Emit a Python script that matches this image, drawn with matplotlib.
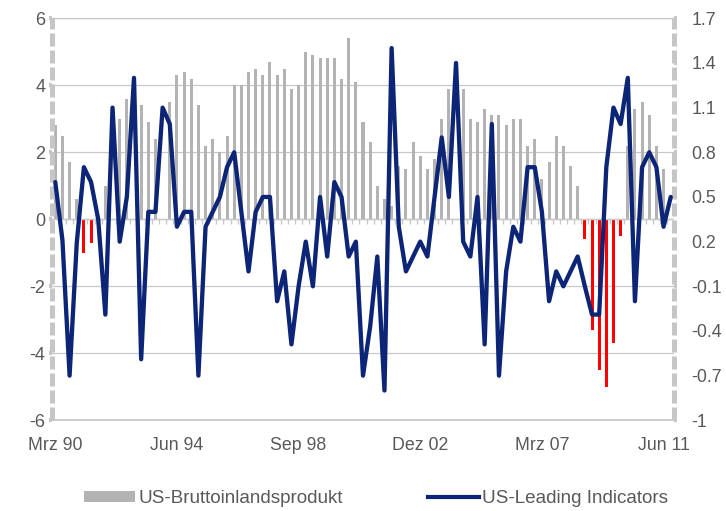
import numpy as np
import matplotlib
matplotlib.use("Agg")
import matplotlib.pyplot as plt
from matplotlib.patches import Patch
from matplotlib.lines import Line2D
from matplotlib.ticker import FuncFormatter

plt.rcParams['font.family'] = ['Liberation Sans', 'DejaVu Sans']
plt.rcParams['axes.unicode_minus'] = False

# ---- data (quarterly, Mrz 90 .. Sep 11) ----
n_quarters = 87
tick_positions = [0, 17, 34, 51, 68, 85]
tick_labels = ["Mrz 90", "Jun 94", "Sep 98", "Dez 02", "Mrz 07", "Jun 11"]

gdp = [2.8, 2.5, 1.7, 0.6, -1.0, -0.7, 0.0, 1.0, 0.0, 3.0,
       3.6, 0.0, 3.4, 2.9, 2.4, 0.0, 3.5, 4.3, 4.4, 4.2,
       3.4, 2.2, 2.4, 2.0, 2.5, 4.0, 4.0, 4.4, 4.5, 4.3,
       4.7, 4.3, 4.5, 3.9, 4.0, 5.0, 4.9, 4.8, 4.8, 4.8,
       4.2, 5.4, 4.1, 2.9, 2.3, 1.0, 0.6, 0.4, 1.6, 1.5,
       2.3, 1.9, 1.5, 1.8, 3.0, 3.9, 0.0, 3.9, 3.0, 2.9,
       3.3, 3.1, 3.1, 2.8, 3.0, 3.0, 2.2, 2.4, 1.2, 1.7,
       2.5, 2.2, 1.6, 1.0, -0.6, -3.3, -4.5, -5.0, -3.7, -0.5,
       2.2, 3.3, 3.5, 3.1, 2.2, 1.5]

lei = [0.60, 0.21, -0.70, 0.19, 0.70, 0.60, 0.35, -0.29, 1.10, 0.20,
       0.50, 1.30, -0.59, 0.40, 0.40, 1.10, 0.99, 0.30, 0.40, 0.40,
       -0.70, 0.30, 0.40, 0.50, 0.70, 0.80, 0.40, 0.00, 0.40, 0.50,
       0.50, -0.20, 0.00, -0.49, -0.10, 0.20, -0.10, 0.50, 0.10, 0.60,
       0.50, 0.10, 0.20, -0.70, -0.37, 0.10, -0.80, 1.50, 0.30, 0.00,
       0.10, 0.20, 0.10, 0.50, 0.90, 0.50, 1.40, 0.20, 0.10, 0.50,
       -0.49, 0.99, -0.70, 0.00, 0.30, 0.20, 0.70, 0.70, 0.40, -0.20,
       0.00, -0.10, 0.00, 0.10, -0.10, -0.29, -0.29, 0.70, 1.10, 0.99,
       1.30, -0.20, 0.70, 0.80, 0.70, 0.30, 0.50]

series_names = ["US-Bruttoinlandsprodukt", "US-Leading Indicators"]

# ---- styles ----
GRAY_BAR = '#b3b3b3'
RED = '#ff0000'
NAVY = '#0c2577'
GRID = '#c8c8c8'
AXISGRAY = '#c6c6c6'
TEXT = '#595959'
DASH = (0, (2.6, 0.8))

fig = plt.figure(figsize=(7.26, 5.11), dpi=100)
ax = fig.add_axes([0.07121, 0.17750, 0.85758, 0.78669])

x_gdp = np.arange(len(gdp))
x_lei = np.arange(len(lei))
bar_colors = [RED if v < 0 else GRAY_BAR for v in gdp]

ax.set_xlim(-0.5, n_quarters - 0.5)
ax.set_ylim(-6, 6)
ax.set_yticks(np.arange(-6, 7, 2))
ax.yaxis.grid(True, color=GRID, lw=0.9)
ax.set_axisbelow(True)
ax.bar(x_gdp, gdp, width=0.42, color=bar_colors, zorder=2)

# zero category axis with small ticks at category boundaries
ax.axhline(0, color=GRID, lw=1.0, zorder=3)
ax.vlines(np.arange(n_quarters + 1) - 0.5, -0.13, 0, color=GRID, lw=1.0, zorder=3)

ax.set_xticks(tick_positions)
ax.set_xticklabels(tick_labels)
ax.tick_params(axis='x', length=0, pad=12, labelsize=12.8, labelcolor=TEXT)
ax.tick_params(axis='y', direction='out', length=2.5, width=3, color=AXISGRAY,
               pad=2, labelsize=13, labelcolor=TEXT)
ax.yaxis.set_major_formatter(FuncFormatter(lambda v, p: f"{v:g}"))

ax.spines['top'].set_color(GRID)
ax.spines['top'].set_linewidth(0.9)
ax.spines['bottom'].set_color(GRID)
ax.spines['bottom'].set_linewidth(1.3)
ax.spines['left'].set_visible(False)
ax.spines['right'].set_visible(False)

# dashed value axes (left and right)
xmin, xmax = ax.get_xlim()
for xv in (xmin, xmax):
    ax.axvline(xv, color=AXISGRAY, lw=3.6, linestyle=DASH,
               dash_capstyle='butt', clip_on=False, zorder=5)

ax2 = ax.twinx()
ax2.set_ylim(-1, 1.7)
ax2.plot(x_lei, lei, color=NAVY, lw=3.1, solid_joinstyle='round',
         solid_capstyle='round', zorder=4)
ax2.set_yticks(np.round(np.arange(-1, 1.71, 0.3), 1))


def fmt(v, p):
    s = f"{v:.1f}"
    if s.endswith(".0"):
        s = s[:-2]
    if s == "-0":
        s = "0"
    return s


ax2.yaxis.set_major_formatter(FuncFormatter(fmt))
ax2.tick_params(axis='y', direction='out', length=2.5, width=3, color=AXISGRAY,
                pad=10, labelsize=12.8, labelcolor=TEXT)
for s in ['top', 'bottom', 'left', 'right']:
    ax2.spines[s].set_visible(False)

handles = [Patch(facecolor=GRAY_BAR, edgecolor='none'),
           Line2D([0], [0], color=NAVY, lw=3.0)]
leg = fig.legend(handles, series_names, loc='center',
                 bbox_to_anchor=(0.518, 1 - 498.5 / 511), ncol=2, frameon=False,
                 fontsize=13.6, handlelength=2.7, handleheight=0.55,
                 handletextpad=0.16, columnspacing=4.5, borderaxespad=0,
                 borderpad=0)
for t in leg.get_texts():
    t.set_color(TEXT)

fig.savefig("out.png", dpi=100)
